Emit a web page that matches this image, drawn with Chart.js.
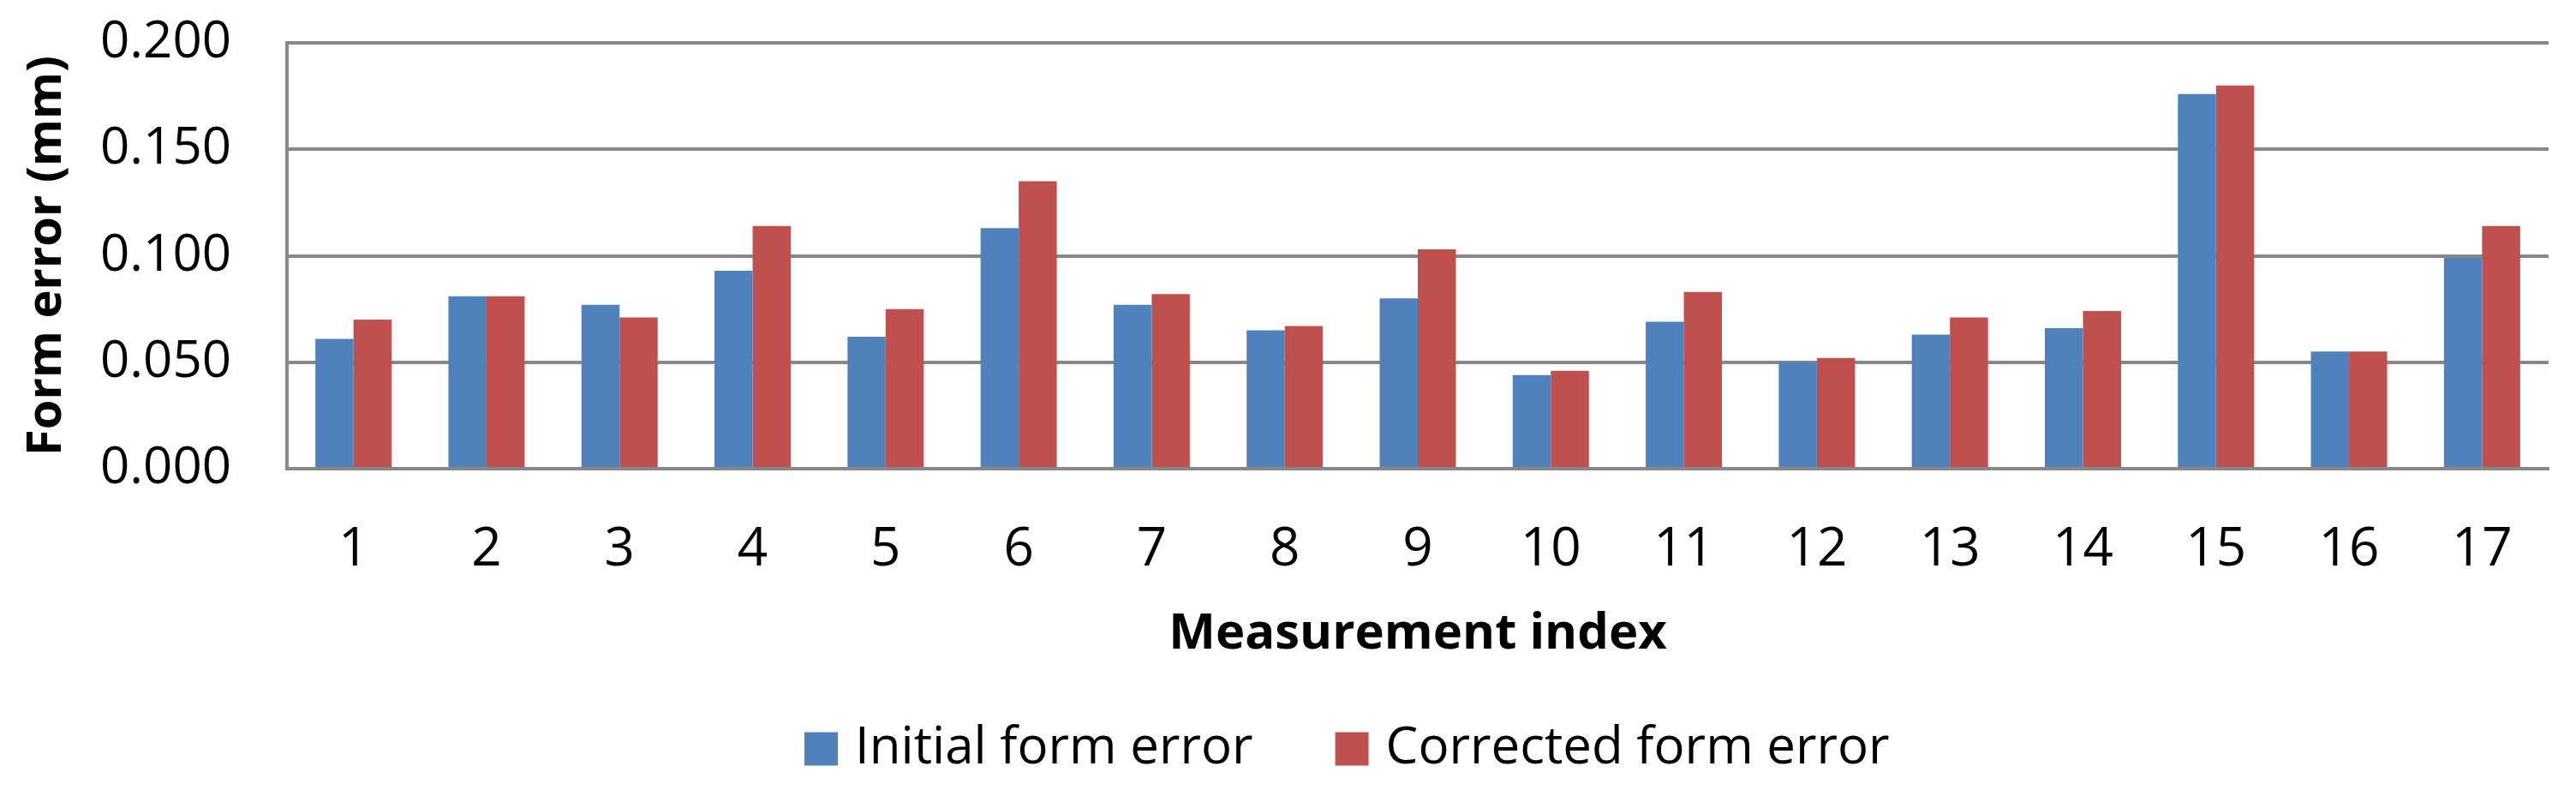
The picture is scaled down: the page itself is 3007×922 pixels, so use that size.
<!DOCTYPE html>
<html>
<head>
<meta charset="utf-8">
<title>Form error per measurement</title>
<script src="https://cdn.jsdelivr.net/npm/chart.js@4.4.1/dist/chart.umd.min.js"></script>
<style>
    html, body { margin: 0; padding: 0; background: #ffffff; }
    #wrap { width: 3007px; height: 922px; }
</style>
</head>
<body>
<div id="wrap"><canvas id="formChart" width="3007" height="922"></canvas></div>
<script>
// Measurement indices (categories)
const measurementIndex = ['1', '2', '3', '4', '5', '6', '7', '8', '9', '10', '11', '12', '13', '14', '15', '16', '17'];

// Form error before correction (mm)
const initialError = [0.061, 0.081, 0.077, 0.093, 0.062, 0.113, 0.077, 0.065, 0.080, 0.044, 0.069, 0.050, 0.063, 0.066, 0.176, 0.055, 0.099];

// Form error after correction (mm)
const correctedError = [0.070, 0.081, 0.071, 0.114, 0.075, 0.135, 0.082, 0.067, 0.103, 0.046, 0.083, 0.052, 0.071, 0.074, 0.180, 0.055, 0.114];

// Value axis tick labels
const yTicks = [0, 0.05, 0.1, 0.15, 0.2];

const gridGrey = '#888888';
const fontFamily = '"Open Sans", "DejaVu Sans", sans-serif';

// Simple legend drawn under the axis title, Excel style
const bottomLegend = {
    id: 'bottomLegend',
    afterDraw(chart, args, opts) {
        const ctx = chart.ctx;
        let x = opts.startX;
        ctx.save();
        ctx.font = '60px ' + fontFamily;
        ctx.textBaseline = 'middle';
        ctx.textAlign = 'left';
        chart.data.datasets.forEach(ds => {
            ctx.fillStyle = ds.backgroundColor;
            ctx.fillRect(x, opts.centerY - opts.box / 2, opts.box, opts.box);
            ctx.fillStyle = '#000000';
            ctx.fillText(ds.label, x + opts.box + opts.gap, opts.centerY);
            x += opts.box + opts.gap + ctx.measureText(ds.label).width + opts.itemGap;
        });
        ctx.restore();
    }
};

document.addEventListener('DOMContentLoaded', function() {
    const ctx = document.getElementById('formChart').getContext('2d');

    new Chart(ctx, {
        type: 'bar',
        data: {
            labels: measurementIndex,
            datasets: [
                {
                    label: 'Initial form error',
                    data: initialError,
                    backgroundColor: '#4F81BD'
                },
                {
                    label: 'Corrected form error',
                    data: correctedError,
                    backgroundColor: '#C0504D'
                }
            ]
        },
        options: {
            responsive: false,
            animation: false,
            devicePixelRatio: 1,
            layout: {
                padding: { left: 0, right: 32, top: 50, bottom: 147 }
            },
            datasets: {
                bar: {
                    categoryPercentage: 0.573,
                    barPercentage: 1.0
                }
            },
            plugins: {
                legend: { display: false },
                tooltip: { enabled: false },
                bottomLegend: {
                    startX: 939,
                    centerY: 874,
                    box: 39,
                    gap: 20,
                    itemGap: 96
                }
            },
            scales: {
                x: {
                    // invisible tick marks give the gap under the axis
                    grid: { display: false, drawTicks: true, tickLength: 58 },
                    border: { display: true, color: gridGrey, width: 4 },
                    ticks: {
                        color: '#000000',
                        padding: 0,
                        font: { family: fontFamily, size: 62 }
                    },
                    title: {
                        display: true,
                        text: 'Measurement index',
                        color: '#000000',
                        padding: { top: 0, bottom: 0 },
                        font: { family: fontFamily, size: 58, weight: 'bold' }
                    },
                    afterFit: function(scale) {
                        scale.height = 228;
                    }
                },
                y: {
                    min: 0,
                    max: 0.2,
                    afterBuildTicks: function(axis) {
                        axis.ticks = yTicks.map(v => ({ value: v }));
                    },
                    grid: {
                        color: gridGrey,
                        lineWidth: 4,
                        drawTicks: true,
                        tickLength: 65,
                        tickColor: 'rgba(0,0,0,0)'
                    },
                    border: { display: true, color: gridGrey, width: 4 },
                    ticks: {
                        color: '#000000',
                        padding: 0,
                        font: { family: fontFamily, size: 60 },
                        callback: function(value) {
                            return Number(value).toFixed(3);
                        }
                    },
                    title: {
                        display: true,
                        text: 'Form error (mm)',
                        color: '#000000',
                        padding: { top: 21, bottom: 0 },
                        font: { family: fontFamily, size: 56, weight: 'bold' }
                    },
                    afterFit: function(scale) {
                        scale.width = 335;
                    }
                }
            }
        },
        plugins: [bottomLegend]
    });
});
</script>
</body>
</html>
